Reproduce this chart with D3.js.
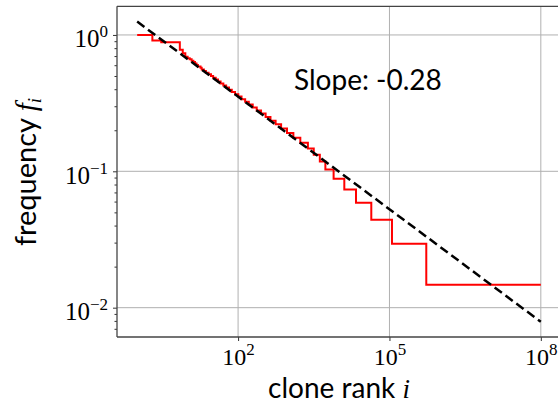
<!DOCTYPE html>
<html>
<head>
<meta charset="utf-8">
<script src="https://cdn.jsdelivr.net/npm/d3@7"></script>
<style>
  body { margin: 0; background: #fff; }
  svg { display: block; }
</style>
</head>
<body>
<div id="chart"></div>
<script>
// clone rank / frequency, step starts
const rank = [1, 2, 3, 7, 8, 9, 10, 11, 12, 13, 14, 15, 16, 18, 19, 21, 23, 26, 29, 32,
  36, 40, 45, 51, 58, 66, 75, 87, 101, 117, 138, 163, 195, 234, 285, 351, 438, 554,
  712, 932, 1246, 1711, 2419, 3160, 4170, 5370, 7820, 12740, 21730, 43650, 112200,
  537000, 1e8];
const freq = [1.0, 0.912, 0.882, 0.779, 0.735, 0.691, 0.676, 0.662, 0.647, 0.632, 0.618,
  0.603, 0.588, 0.574, 0.559, 0.544, 0.529, 0.515, 0.5, 0.485, 0.471, 0.456, 0.441,
  0.426, 0.412, 0.397, 0.382, 0.368, 0.353, 0.338, 0.324, 0.309, 0.294, 0.279, 0.265,
  0.25, 0.235, 0.221, 0.206, 0.191, 0.176, 0.162, 0.147, 0.132, 0.118, 0.103, 0.0882,
  0.0735, 0.0588, 0.0441, 0.0294, 0.0147, 0.0147];

// fitted power law (dashed)
const fitRank = [1, 1e8];
const fitFreq = [1.253, 0.00788];
const slopeText = "Slope: -0.28";

const xTickExp = [2, 5, 8];
const yTickExp = [0, -1, -2];

const width = 558, height = 404;
const m = { left: 117, top: 6.3, bottom: 337, right: 561 };
const sansFont = "Lato, 'Noto Sans', sans-serif";
const serifFont = "'Liberation Serif', 'DejaVu Serif', serif";

const svg = d3.select("#chart").append("svg")
    .attr("width", width)
    .attr("height", height);

const x = d3.scaleLog().domain([Math.pow(10, -0.4), Math.pow(10, 8.4)]).range([m.left, m.right]);
const y = d3.scaleLog().domain([Math.pow(10, -2.215), Math.pow(10, 0.21)]).range([m.bottom, m.top]);

const xMajor = xTickExp.map(e => Math.pow(10, e));
const yMajor = yTickExp.map(e => Math.pow(10, e));
const yMinor = [];
for (let e = -3; e <= 0; e++) {
    for (let k = 2; k <= 9; k++) {
        const v = k * Math.pow(10, e);
        if (v >= y.domain()[0] && v <= y.domain()[1]) yMinor.push(v);
    }
}

// grid
svg.append("g").selectAll("line")
    .data(xMajor).enter().append("line")
    .attr("x1", d => x(d)).attr("x2", d => x(d))
    .attr("y1", m.top).attr("y2", m.bottom)
    .attr("stroke", "#b0b0b0").attr("stroke-width", 1);
svg.append("g").selectAll("line")
    .data(yMajor).enter().append("line")
    .attr("x1", m.left).attr("x2", m.right)
    .attr("y1", d => y(d)).attr("y2", d => y(d))
    .attr("stroke", "#b0b0b0").attr("stroke-width", 1);

// axes (ticks only, labels added below)
const xAxis = svg.append("g")
    .attr("transform", `translate(0,${m.bottom})`)
    .call(d3.axisBottom(x).tickValues(xMajor).tickSize(4).tickFormat(""));
const yAxis = svg.append("g")
    .attr("transform", `translate(${m.left},0)`)
    .call(d3.axisLeft(y).tickValues(yMajor).tickSize(4).tickFormat(""));
const yAxisMinor = svg.append("g")
    .attr("transform", `translate(${m.left},0)`)
    .call(d3.axisLeft(y).tickValues(yMinor).tickSize(2.5).tickFormat(""));
[xAxis, yAxis, yAxisMinor].forEach(g => {
    g.select(".domain").remove();
    g.selectAll(".tick line").attr("stroke", "#333").attr("stroke-width", 1);
});

// tick labels 10^n
xAxis.selectAll(".tick").each(function(d) {
    const t = d3.select(this).append("text")
        .attr("y", 28)
        .attr("text-anchor", "middle")
        .attr("fill", "#000")
        .style("font-family", serifFont)
        .style("font-size", "24px");
    t.append("tspan").text("10");
    t.append("tspan").attr("dy", -10).style("font-size", "17px")
        .text(Math.round(Math.log10(d)));
});
yAxis.selectAll(".tick").each(function(d) {
    const e = Math.round(Math.log10(d));
    const t = d3.select(this).append("text")
        .attr("x", -9)
        .attr("y", 12)
        .attr("text-anchor", "end")
        .attr("fill", "#000")
        .style("font-family", serifFont)
        .style("font-size", "25px");
    t.append("tspan").text("10");
    t.append("tspan").attr("dy", -10).style("font-size", "17px")
        .text(e < 0 ? "\u2212" + (-e) : e);
});

// lines
const stepLine = d3.line()
    .x(d => x(d[0]))
    .y(d => y(d[1]))
    .curve(d3.curveStepAfter);

svg.append("path")
    .datum(rank.map((r, i) => [r, freq[i]]))
    .attr("fill", "none")
    .attr("stroke", "#ff0000")
    .attr("stroke-width", 2)
    .attr("d", stepLine);

svg.append("path")
    .datum(fitRank.map((r, i) => [r, fitFreq[i]]))
    .attr("fill", "none")
    .attr("stroke", "#000")
    .attr("stroke-width", 2.5)
    .attr("stroke-dasharray", "9,4.5")
    .attr("d", d3.line().x(d => x(d[0])).y(d => y(d[1])));

// frame
svg.append("line").attr("x1", m.left).attr("x2", m.left).attr("y1", m.top).attr("y2", m.bottom)
    .attr("stroke", "#444").attr("stroke-width", 1.3);
svg.append("line").attr("x1", m.left).attr("x2", m.right).attr("y1", m.top).attr("y2", m.top)
    .attr("stroke", "#444").attr("stroke-width", 1.3);
svg.append("line").attr("x1", m.left).attr("x2", m.right).attr("y1", m.bottom).attr("y2", m.bottom)
    .attr("stroke", "#444").attr("stroke-width", 1.3);

// slope annotation
svg.append("text")
    .attr("x", 294)
    .attr("y", 90)
    .attr("fill", "#000")
    .style("font-family", sansFont)
    .style("font-size", "28px")
    .text(slopeText);

// axis labels
const xLabel = svg.append("text")
    .attr("x", 339)
    .attr("y", 398)
    .attr("text-anchor", "middle")
    .attr("fill", "#000")
    .style("font-family", sansFont)
    .style("font-size", "28px");
xLabel.append("tspan").text("clone rank ");
xLabel.append("tspan").style("font-family", serifFont).style("font-style", "italic")
    .style("font-size", "27px").text("i");

const yLabel = svg.append("text")
    .attr("transform", "translate(36,172) rotate(-90)")
    .attr("text-anchor", "middle")
    .attr("fill", "#000")
    .style("font-family", sansFont)
    .style("font-size", "29px");
yLabel.append("tspan").text("frequency ");
yLabel.append("tspan").style("font-family", serifFont).style("font-style", "italic").text("f");
yLabel.append("tspan").attr("dy", 5).style("font-family", serifFont)
    .style("font-style", "italic").style("font-size", "19px").text("i");
</script>
</body>
</html>
